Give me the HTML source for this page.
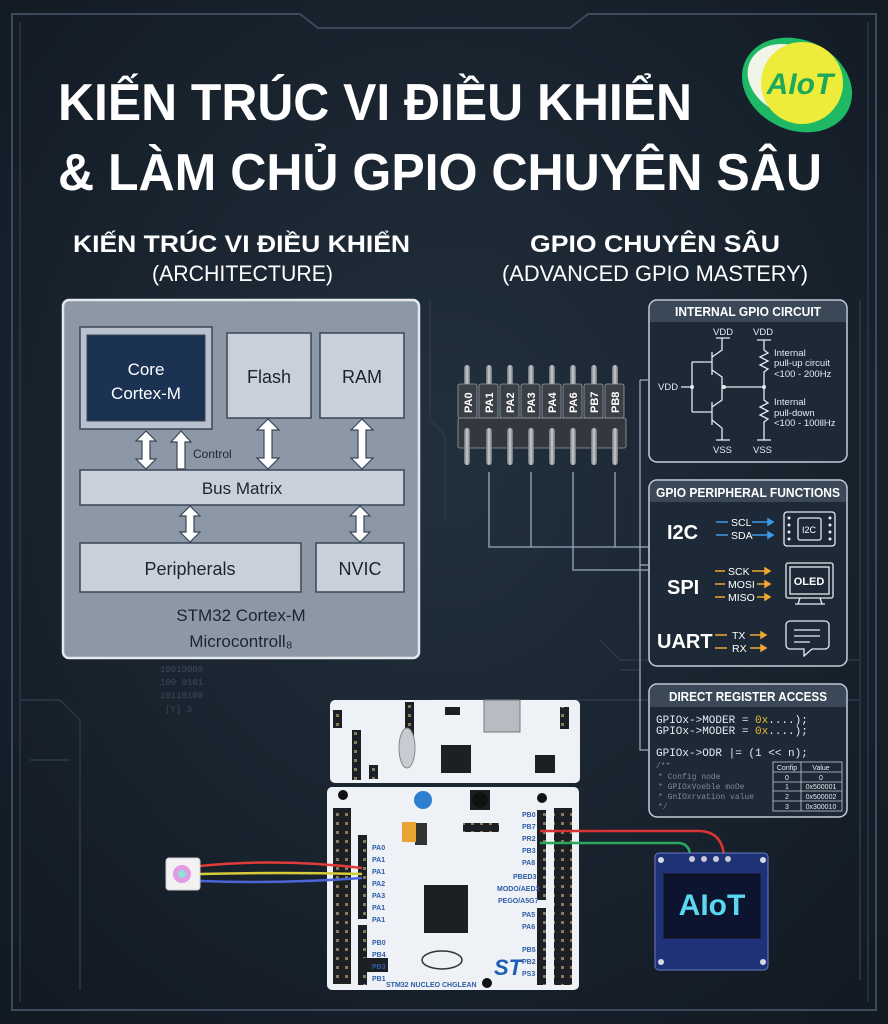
<!DOCTYPE html>
<html><head><meta charset="utf-8"><style>
html,body{margin:0;padding:0;background:#17212c;}
svg{display:block;}
text{font-family:"Liberation Sans",sans-serif;}
.m{font-family:"Liberation Mono",monospace;}
</style></head><body>
<svg width="888" height="1024" viewBox="0 0 888 1024" xmlns="http://www.w3.org/2000/svg">
<defs>
<radialGradient id="bg" cx="50%" cy="45%" r="70%"><stop offset="0" stop-color="#22303e"/><stop offset="1" stop-color="#121a23"/></radialGradient>
<linearGradient id="pin" x1="0" x2="1"><stop offset="0" stop-color="#6a6f75"/><stop offset=".5" stop-color="#c9ccd0"/><stop offset="1" stop-color="#6a6f75"/></linearGradient>
<pattern id="hdr" width="9" height="9" patternUnits="userSpaceOnUse"><rect width="9" height="9" fill="#1c1f24"/><rect x="3" y="3" width="3" height="3" fill="#8a7a5a"/></pattern>
</defs>
<rect width="888" height="1024" fill="url(#bg)"/>
<!-- frame -->
<path d="M12 14 H300 L318 28 H570 L588 14 H876 V1010 H12 Z" fill="none" stroke="#3b4b5b" stroke-width="2"/>
<path d="M20 22 V1002 M868 22 V1002" stroke="#2b3946" stroke-width="1.5"/>
<g stroke="#2c3a48" stroke-width="1.5" fill="none">
<path d="M430 300 V420 L445 435 V520"/><path d="M620 670 H640 V700"/><path d="M600 640 L620 660 H860"/>
<path d="M20 700 H60 L80 720 V990"/><path d="M30 760 H70"/><path d="M430 700 H860"/><path d="M860 300 V980"/>
</g>
<g fill="#3b4a58" font-size="9"><text x="160" y="672" class="m">10010000</text><text x="160" y="685" class="m">100 0101</text><text x="160" y="698" class="m">10110100</text><text x="165" y="712" class="m">[Y]   3</text></g>

<!-- logo -->
<ellipse cx="797" cy="85" rx="57" ry="45" transform="rotate(25 797 85)" fill="#1fb864"/>
<ellipse cx="790" cy="80" rx="44" ry="34" transform="rotate(25 790 80)" fill="#f1f5e8"/>
<circle cx="802" cy="83" r="41" fill="#eeec3a"/>
<text x="800" y="94" text-anchor="middle" font-size="30" font-weight="bold" font-style="italic" fill="#1da85a">AIoT</text>

<!-- titles -->
<text x="58" y="120" font-size="52" font-weight="bold" fill="#fff" textLength="634" lengthAdjust="spacingAndGlyphs">KIẾN TRÚC VI ĐIỀU KHIỂN</text>
<text x="58" y="190" font-size="52" font-weight="bold" fill="#fff" textLength="764" lengthAdjust="spacingAndGlyphs">&amp; LÀM CHỦ GPIO CHUYÊN SÂU</text>
<text x="73" y="252" font-size="24" font-weight="bold" fill="#fff" textLength="337" lengthAdjust="spacingAndGlyphs">KIẾN TRÚC VI ĐIỀU KHIỂN</text>
<text x="152" y="281" font-size="22" fill="#fff" textLength="181" lengthAdjust="spacingAndGlyphs">(ARCHITECTURE)</text>
<text x="530" y="252" font-size="24" font-weight="bold" fill="#fff" textLength="250" lengthAdjust="spacingAndGlyphs">GPIO CHUYÊN SÂU</text>
<text x="502" y="281" font-size="22" fill="#fff" textLength="306" lengthAdjust="spacingAndGlyphs">(ADVANCED GPIO MASTERY)</text>

<!-- architecture panel -->
<rect x="63" y="300" width="356" height="358" rx="6" fill="#8d98a7" stroke="#e3e8ee" stroke-width="2.5"/>
<g stroke="#3a4656" stroke-width="1.5" fill="#c9d0da">
<rect x="80" y="327" width="132" height="102" fill="#b8c1cd"/>
<rect x="227" y="333" width="84" height="85"/>
<rect x="320" y="333" width="84" height="85"/>
<rect x="80" y="470" width="324" height="35"/>
<rect x="80" y="543" width="221" height="49"/>
<rect x="316" y="543" width="88" height="49"/>
</g>
<rect x="87" y="335" width="118" height="86" fill="#1c3253" stroke="#3a4656"/>
<text x="146" y="375" text-anchor="middle" font-size="17" fill="#fff">Core</text>
<text x="146" y="399" text-anchor="middle" font-size="17" fill="#fff">Cortex-M</text>
<text x="269" y="383" text-anchor="middle" font-size="18" fill="#1c2430">Flash</text>
<text x="362" y="383" text-anchor="middle" font-size="18" fill="#1c2430">RAM</text>
<text x="242" y="494" text-anchor="middle" font-size="17" fill="#1c2430">Bus Matrix</text>
<text x="190" y="575" text-anchor="middle" font-size="18" fill="#1c2430">Peripherals</text>
<text x="360" y="575" text-anchor="middle" font-size="18" fill="#1c2430">NVIC</text>
<text x="241" y="621" text-anchor="middle" font-size="17" fill="#1c2430">STM32 Cortex-M</text>
<text x="241" y="647" text-anchor="middle" font-size="17" fill="#1c2430">Microcontroll₈</text>
<text x="193" y="458" font-size="12" fill="#1c2430">Control</text>
<g fill="#fff" stroke="#3a4656" stroke-width="1.2">
<path d="M146 431 l-10 10 h6 v18 h-6 l10 10 l10 -10 h-6 v-18 h6 z"/>
<path d="M268 419 l-11 11 h7 v28 h-7 l11 11 l11 -11 h-7 v-28 h7 z"/>
<path d="M362 419 l-11 11 h7 v28 h-7 l11 11 l11 -11 h-7 v-28 h7 z"/>
<path d="M190 506 l-10 10 h6 v16 h-6 l10 10 l10 -10 h-6 v-16 h6 z"/>
<path d="M360 506 l-10 10 h6 v16 h-6 l10 10 l10 -10 h-6 v-16 h6 z"/>
<path d="M181 431 l-10 11 h6 v27 h8 v-27 h6 z"/>
</g>

<!-- connector lines -->
<g stroke="#9aaabd" stroke-width="1.3" fill="none">
<path d="M489 472 V547 H650"/><path d="M531 472 V547"/><path d="M615 472 V547"/>
<path d="M573 472 V570 H650"/>
<path d="M640 380 H648 M640 380 V750 H650 M640 565 H650"/>
</g>
<!-- pin header -->
<g>
<g fill="url(#pin)">
<rect x="464" y="365" width="6" height="100" rx="3"/><rect x="486" y="365" width="6" height="100" rx="3"/><rect x="507" y="365" width="6" height="100" rx="3"/><rect x="528" y="365" width="6" height="100" rx="3"/><rect x="549" y="365" width="6" height="100" rx="3"/><rect x="570" y="365" width="6" height="100" rx="3"/><rect x="591" y="365" width="6" height="100" rx="3"/><rect x="612" y="365" width="6" height="100" rx="3"/>
</g>
<g fill="#3b4047" stroke="#9aa0a8" stroke-width="0.8">
<rect x="458" y="384" width="19" height="34" rx="2"/><rect x="479" y="384" width="19" height="34" rx="2"/><rect x="500" y="384" width="19" height="34" rx="2"/><rect x="521" y="384" width="19" height="34" rx="2"/><rect x="542" y="384" width="19" height="34" rx="2"/><rect x="563" y="384" width="19" height="34" rx="2"/><rect x="584" y="384" width="19" height="34" rx="2"/><rect x="605" y="384" width="19" height="34" rx="2"/>
<rect x="458" y="418" width="168" height="30" rx="2" fill="#34383e"/>
</g>
<g fill="url(#pin)">
<rect x="464" y="428" width="6" height="36" rx="3"/><rect x="486" y="428" width="6" height="36" rx="3"/><rect x="507" y="428" width="6" height="36" rx="3"/><rect x="528" y="428" width="6" height="36" rx="3"/><rect x="549" y="428" width="6" height="36" rx="3"/><rect x="570" y="428" width="6" height="36" rx="3"/><rect x="591" y="428" width="6" height="36" rx="3"/><rect x="612" y="428" width="6" height="36" rx="3"/>
</g>
<g fill="#fff" font-size="11" font-weight="bold">
<text transform="translate(472 413) rotate(-90)">PA0</text><text transform="translate(493 413) rotate(-90)">PA1</text><text transform="translate(514 413) rotate(-90)">PA2</text><text transform="translate(535 413) rotate(-90)">PA3</text><text transform="translate(556 413) rotate(-90)">PA4</text><text transform="translate(577 413) rotate(-90)">PA6</text><text transform="translate(598 413) rotate(-90)">PB7</text><text transform="translate(619 413) rotate(-90)">PB8</text>
</g>
</g>

<!-- right panels -->
<g stroke="#c5ced8" stroke-width="1.5">
<rect x="649" y="300" width="198" height="162" rx="8" fill="#1d2936"/>
<rect x="649" y="480" width="198" height="186" rx="8" fill="#1d2936"/>
<rect x="649" y="684" width="198" height="133" rx="8" fill="#1d2936"/>
</g>
<g fill="#3a4858"><path d="M650 322 V308 a7 7 0 0 1 7 -7 H839 a7 7 0 0 1 7 7 V322Z"/><path d="M650 502 V488 a7 7 0 0 1 7 -7 H839 a7 7 0 0 1 7 7 V502Z"/><path d="M650 707 V692 a7 7 0 0 1 7 -7 H839 a7 7 0 0 1 7 7 V707Z"/></g>
<g fill="#fff" font-weight="bold" font-size="12.5" text-anchor="middle">
<text x="748" y="316" textLength="146" lengthAdjust="spacingAndGlyphs">INTERNAL GPIO CIRCUIT</text>
<text x="748" y="497" textLength="184" lengthAdjust="spacingAndGlyphs">GPIO PERIPHERAL FUNCTIONS</text>
<text x="748" y="701" textLength="158" lengthAdjust="spacingAndGlyphs">DIRECT REGISTER ACCESS</text>
</g>
<!-- circuit -->
<g stroke="#e6ebf0" stroke-width="1.3" fill="none">
<path d="M681 387 H692 M692 362 V412 M692 362 H712 M692 412 H712"/>
<path d="M712 352 V375 M712 402 V425"/>
<path d="M712 357 L722 350 V338 M716 338 H730"/>
<path d="M712 370 L722 377 V387 M712 407 L722 400 V387 M712 420 L722 428 V440 M716 440 H730"/>
<path d="M722 387 H764"/>
<path d="M764 340 V350 l4 3 l-8 4 l8 4 l-8 4 l8 4 l-4 3 V400 l4 3 l-8 4 l8 4 l-8 4 l8 4 l-4 3 V440 M757 340 H771 M757 440 H771"/>
</g>
<g fill="#e6ebf0"><circle cx="692" cy="387" r="2"/><circle cx="724" cy="387" r="2"/><circle cx="764" cy="387" r="2"/></g>
<g fill="#e6ebf0" font-size="9.5">
<text x="713" y="335">VDD</text><text x="753" y="335">VDD</text><text x="658" y="390">VDD</text>
<text x="713" y="453">VSS</text><text x="753" y="453">VSS</text>
<text x="774" y="356">Internal</text><text x="774" y="366">pull-up circuit</text><text x="774" y="377">&lt;100 - 200Hz</text>
<text x="774" y="405">Internal</text><text x="774" y="416">pull-down</text><text x="774" y="426">&lt;100 - 100llHz</text>
</g>
<!-- peripheral functions -->
<g fill="#fff" font-weight="bold" font-size="20">
<text x="667" y="539">I2C</text><text x="667" y="594">SPI</text><text x="657" y="648">UART</text>
</g>
<g font-size="10.5" fill="#fff">
<text x="731" y="526">SCL</text><text x="731" y="539">SDA</text>
<text x="728" y="575">SCK</text><text x="728" y="588">MOSI</text><text x="728" y="601">MISO</text>
<text x="732" y="639">TX</text><text x="732" y="652">RX</text>
</g>
<g stroke="#3d9be8" stroke-width="1.5" fill="#3d9be8"><path d="M716 522 H728 M752 522 H768 M716 535 H728 M752 535 H768"/><path d="M768 519 l5 3 l-5 3z M768 532 l5 3 l-5 3z"/></g>
<g stroke="#f0a830" stroke-width="1.5" fill="#f0a830"><path d="M715 571 H725 M752 571 H765 M715 584 H725 M757 584 H765 M715 597 H725 M757 597 H765 M715 635 H727 M750 635 H761 M715 648 H727 M750 648 H761"/><path d="M765 568 l5 3 l-5 3z M765 581 l5 3 l-5 3z M765 594 l5 3 l-5 3z M761 632 l5 3 l-5 3z M761 645 l5 3 l-5 3z"/></g>
<g stroke="#e6ebf0" stroke-width="1.3" fill="none">
<rect x="784" y="512" width="51" height="34" rx="3"/><rect x="798" y="518" width="23" height="22" rx="2"/>
<rect x="786" y="563" width="47" height="35" rx="2"/><rect x="790" y="567" width="39" height="27"/><path d="M800 598 l-2 6 M820 598 l2 6 M795 604 H825"/>
<path d="M790 621 H825 a4 4 0 0 1 4 4 V645 a4 4 0 0 1 -4 4 H812 L804 656 V649 H790 a4 4 0 0 1 -4 -4 V625 a4 4 0 0 1 4 -4z M794 630 H820 M794 636 H820 M794 642 H810"/>
</g>
<g fill="#e6ebf0"><circle cx="789" cy="518" r="1.5"/><circle cx="789" cy="525" r="1.5"/><circle cx="789" cy="532" r="1.5"/><circle cx="789" cy="539" r="1.5"/><circle cx="830" cy="518" r="1.5"/><circle cx="830" cy="525" r="1.5"/><circle cx="830" cy="532" r="1.5"/><circle cx="830" cy="539" r="1.5"/></g>
<text x="809" y="533" text-anchor="middle" font-size="9" fill="#fff">I2C</text>
<text x="809" y="585" text-anchor="middle" font-size="11" font-weight="bold" fill="#fff">OLED</text>
<!-- register -->
<g font-size="11" fill="#e6ebf0">
<text x="656" y="723" class="m">GPIOx-&gt;MODER = <tspan fill="#e8b83a">0x</tspan>....);</text>
<text x="656" y="734" class="m">GPIOx-&gt;MODER = <tspan fill="#e8b83a">0x</tspan>....);</text>
<text x="656" y="756" class="m">GPIOx-&gt;ODR |= (1 &lt;&lt; n);</text>
</g>
<g font-size="8" fill="#7f8b98">
<text x="656" y="768" class="m">/**</text><text x="658" y="779" class="m">* Config node</text><text x="658" y="789" class="m">* GPIOxVoeble moDe</text><text x="658" y="799" class="m">* GnIOxrvation value</text><text x="658" y="809" class="m">*/</text>
</g>
<g stroke="#c5ced8" stroke-width="0.8" fill="none"><rect x="773" y="762" width="69" height="49"/><path d="M773 772 H842 M773 782 H842 M773 791 H842 M773 801 H842 M801 762 V811"/></g>
<g font-size="7" fill="#e6ebf0" text-anchor="middle"><text x="787" y="770">Confip</text><text x="821" y="770">Value</text><text x="787" y="780">0</text><text x="821" y="780">0</text><text x="787" y="789">1</text><text x="821" y="789">0x500001</text><text x="787" y="799">2</text><text x="821" y="799">0x500002</text><text x="787" y="809">3</text><text x="821" y="809">0x300010</text></g>

<!-- board -->
<rect x="330" y="700" width="250" height="83" rx="5" fill="#eef1f5"/>
<rect x="327" y="787" width="252" height="203" rx="5" fill="#eef1f5"/>
<rect x="484" y="700" width="36" height="32" fill="#b8bcc2" stroke="#777"/>
<g fill="url(#hdr)">
<rect x="333" y="710" width="9" height="18"/><rect x="352" y="730" width="9" height="50"/><rect x="405" y="702" width="9" height="45"/><rect x="369" y="765" width="9" height="14"/><rect x="560" y="707" width="9" height="22"/>
<rect x="333" y="808" width="18" height="176"/><rect x="358" y="835" width="9" height="84"/><rect x="358" y="925" width="9" height="60"/>
<rect x="537" y="810" width="9" height="90"/><rect x="537" y="908" width="9" height="77"/><rect x="554" y="808" width="18" height="177"/>
<rect x="463" y="823" width="36" height="9"/>
</g>
<g fill="#1c1f24">
<rect x="445" y="707" width="15" height="8"/><rect x="441" y="745" width="30" height="28"/><rect x="535" y="755" width="20" height="18"/>
<rect x="424" y="885" width="44" height="48"/><rect x="415" y="823" width="12" height="22" fill="#333"/><rect x="470" y="790" width="20" height="20"/><rect x="360" y="958" width="28" height="14"/>
</g>
<rect x="402" y="822" width="14" height="20" fill="#e8a430"/>
<circle cx="423" cy="800" r="9" fill="#2f7fd0"/><circle cx="480" cy="800" r="8" fill="#111"/>
<circle cx="343" cy="795" r="5" fill="#111"/><circle cx="542" cy="798" r="5" fill="#111"/><circle cx="487" cy="983" r="5" fill="#111"/>
<ellipse cx="407" cy="748" rx="8" ry="20" fill="#c8ccd2" stroke="#888"/>
<ellipse cx="442" cy="960" rx="20" ry="9" fill="none" stroke="#333" stroke-width="1.5"/>
<text x="494" y="975" font-size="22" font-weight="bold" font-style="italic" fill="#1e5fb4">ST</text>
<g font-size="7" font-weight="bold" fill="#2d5da6">
<text x="372" y="850">PA0</text><text x="372" y="862">PA1</text><text x="372" y="874">PA1</text><text x="372" y="886">PA2</text><text x="372" y="898">PA3</text><text x="372" y="910">PA1</text><text x="372" y="922">PA1</text>
<text x="372" y="945">PB0</text><text x="372" y="957">PB4</text><text x="372" y="969">PB3</text><text x="372" y="981">PB1</text>
<text x="522" y="817">PB0</text><text x="522" y="829">PB7</text><text x="522" y="841">PR2</text><text x="522" y="853">PB3</text><text x="522" y="865">PA8</text><text x="513" y="879">PBED3</text><text x="497" y="891">MODO/AED3</text><text x="498" y="903">PEGO/A5G7</text><text x="522" y="917">PA5</text><text x="522" y="929">PA6</text>
<text x="522" y="952">PB5</text><text x="522" y="964">PB2</text><text x="522" y="976">PS3</text>
<text x="386" y="987" font-size="7">STM32 NUCLEO CHGLEAN</text>
</g>
<!-- wires -->
<g fill="none" stroke-width="2.5">
<path d="M200 866 Q280 858 362 868" stroke="#e03a3a"/>
<path d="M200 874 Q280 872 362 874" stroke="#d6cc3a"/>
<path d="M200 881 Q280 884 362 878" stroke="#4a66d6"/>
<path d="M540 831 H700 Q722 832 724 856" stroke="#d93434"/>
<path d="M540 843 H680 Q690 845 690 856" stroke="#2aa860"/>
</g>
<rect x="166" y="858" width="34" height="32" rx="3" fill="#f2f2f2" stroke="#ccc"/>
<circle cx="182" cy="874" r="9" fill="#e29ae0"/><circle cx="182" cy="874" r="4" fill="#8fe0d8"/>
<!-- oled -->
<rect x="655" y="853" width="113" height="117" rx="4" fill="#1f3277" stroke="#6a7cc4"/>
<g fill="#c9ccd2"><circle cx="692" cy="859" r="3"/><circle cx="704" cy="859" r="3"/><circle cx="716" cy="859" r="3"/><circle cx="728" cy="859" r="3"/></g>
<rect x="664" y="874" width="96" height="64" fill="#0c1430" stroke="#111"/>
<text x="712" y="915" text-anchor="middle" font-size="30" font-weight="bold" fill="#5ad8f0">AIoT</text>
<g fill="#d6dae0"><circle cx="661" cy="962" r="3"/><circle cx="763" cy="962" r="3"/><circle cx="661" cy="860" r="3"/><circle cx="763" cy="860" r="3"/></g>
</svg>
</body></html>
